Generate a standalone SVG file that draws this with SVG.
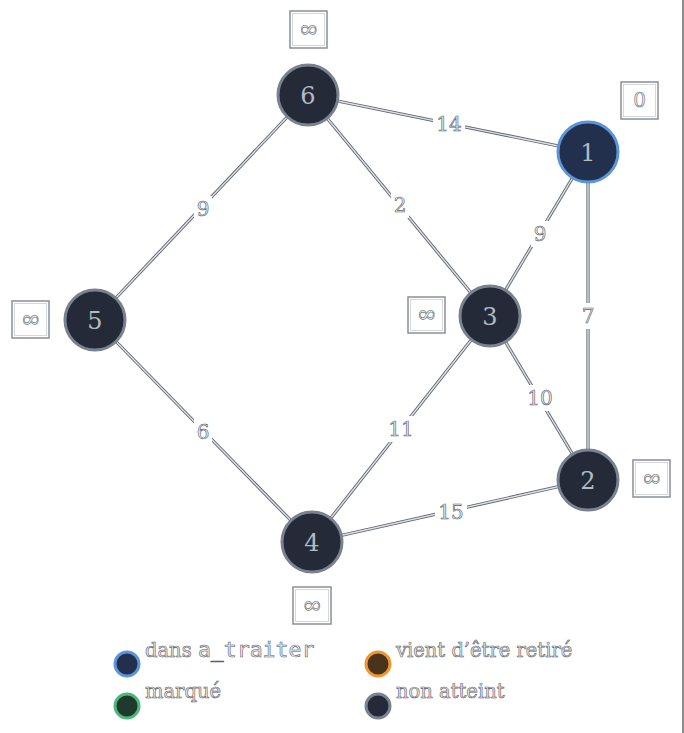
<svg xmlns="http://www.w3.org/2000/svg" width="684" height="733" viewBox="0 0 684 733">
<style>
.e1{stroke:#5f6570;stroke-width:3.2;fill:none}
.e2{stroke:#dfe2e7;stroke-width:1.4;fill:none}
.lbg{fill:#ffffff}
.lt{font-family:"DejaVu Serif","Liberation Serif",serif;font-size:20px;fill:#e8eaee;stroke:#5a606b;stroke-width:0.6;text-anchor:middle}
.n{fill:#252a38;stroke:#7a8290;stroke-width:3}
.n1{fill:#22304d;stroke:#5b95d9;stroke-width:3}
.nt{font-family:"DejaVu Serif","Liberation Serif",serif;font-size:24px;fill:#b4bac4;text-anchor:middle}
.bo{fill:#ffffff;stroke:#8a8f99;stroke-width:1.5}
.bi{fill:none;stroke:#d4d7dc;stroke-width:1}
.bt{font-family:"DejaVu Serif","Liberation Serif",serif;font-size:20px;fill:#eef0f3;stroke:#6a707a;stroke-width:0.6;text-anchor:middle}
.inf{font-size:24px}
.gt{font-family:"DejaVu Serif","Liberation Serif",serif;font-size:19.5px;fill:#eceef2;stroke:#5a606b;stroke-width:0.6}
.mono{font-family:"DejaVu Sans Mono","Liberation Mono",monospace}
</style>
<line x1="683" y1="0" x2="683" y2="733" stroke="#666" stroke-width="1.5"/>
<g id="connectors">
<g id="e6-1"><line class="e1" x1="308" y1="95" x2="588" y2="152"/><line class="e2" x1="308" y1="95" x2="588" y2="152"/><rect class="lbg" x="433" y="112" width="32" height="24"/><text class="lt" x="449" y="131">14</text></g>
<g id="e6-5"><line class="e1" x1="308" y1="95" x2="95" y2="320"/><line class="e2" x1="308" y1="95" x2="95" y2="320"/><rect class="lbg" x="194" y="196" width="18" height="26"/><text class="lt" x="203" y="216">9</text></g>
<g id="e6-3"><line class="e1" x1="308" y1="95" x2="490" y2="316"/><line class="e2" x1="308" y1="95" x2="490" y2="316"/><rect class="lbg" x="391" y="192" width="18" height="26"/><text class="lt" x="400" y="212">2</text></g>
<g id="e1-3"><line class="e1" x1="588" y1="152" x2="490" y2="316"/><line class="e2" x1="588" y1="152" x2="490" y2="316"/><rect class="lbg" x="531" y="221" width="18" height="26"/><text class="lt" x="540" y="241">9</text></g>
<g id="e1-2"><line class="e1" x1="588" y1="152" x2="588" y2="480"/><line class="e2" x1="588" y1="152" x2="588" y2="480"/><rect class="lbg" x="579" y="303" width="18" height="26"/><text class="lt" x="588" y="323">7</text></g>
<g id="e3-2"><line class="e1" x1="490" y1="316" x2="588" y2="480"/><line class="e2" x1="490" y1="316" x2="588" y2="480"/><rect class="lbg" x="525" y="385" width="30" height="26"/><text class="lt" x="540" y="405">10</text></g>
<g id="e3-4"><line class="e1" x1="490" y1="316" x2="312" y2="542"/><line class="e2" x1="490" y1="316" x2="312" y2="542"/><rect class="lbg" x="386" y="416" width="30" height="26"/><text class="lt" x="401" y="436">11</text></g>
<g id="e5-4"><line class="e1" x1="95" y1="320" x2="312" y2="542"/><line class="e2" x1="95" y1="320" x2="312" y2="542"/><rect class="lbg" x="194" y="419" width="18" height="26"/><text class="lt" x="203" y="439">6</text></g>
<g id="e4-2"><line class="e1" x1="312" y1="542" x2="588" y2="480"/><line class="e2" x1="312" y1="542" x2="588" y2="480"/><rect class="lbg" x="435" y="499" width="32" height="26"/><text class="lt" x="451" y="519">15</text></g>
</g>
<g id="node6"><circle class="n" cx="308" cy="95" r="30"/><text class="nt" x="308" y="104">6</text><rect class="bo" x="290" y="11" width="37" height="37"/><rect class="bi" x="292.5" y="13.5" width="32" height="32"/><text class="bt inf" x="308.5" y="37">∞</text></g>
<g id="node1"><circle class="n1" cx="588" cy="152" r="30"/><text class="nt" x="588" y="161">1</text><rect class="bo" x="621" y="82" width="37" height="37"/><rect class="bi" x="623.5" y="84.5" width="32" height="32"/><text class="bt" x="639.5" y="107">0</text></g>
<g id="node5"><circle class="n" cx="95" cy="320" r="30"/><text class="nt" x="95" y="329">5</text><rect class="bo" x="12" y="301" width="37" height="37"/><rect class="bi" x="14.5" y="303.5" width="32" height="32"/><text class="bt inf" x="30.5" y="327">∞</text></g>
<g id="node3"><circle class="n" cx="490" cy="316" r="30"/><text class="nt" x="490" y="325">3</text><rect class="bo" x="408" y="297" width="37" height="36"/><rect class="bi" x="410.5" y="299.5" width="32" height="31"/><text class="bt inf" x="426.5" y="322">∞</text></g>
<g id="node2"><circle class="n" cx="588" cy="480" r="30"/><text class="nt" x="588" y="489">2</text><rect class="bo" x="633" y="460" width="37" height="37"/><rect class="bi" x="635.5" y="462.5" width="32" height="32"/><text class="bt inf" x="651.5" y="486">∞</text></g>
<g id="node4"><circle class="n" cx="312" cy="542" r="30"/><text class="nt" x="312" y="551">4</text><rect class="bo" x="293" y="587" width="38" height="37"/><rect class="bi" x="295.5" y="589.5" width="33" height="32"/><text class="bt inf" x="312" y="613">∞</text></g>
<g id="legend">
<circle cx="127" cy="664" r="12" fill="#22304d" stroke="#5b95d9" stroke-width="3"/>
<text class="gt" x="145" y="657">dans <tspan class="mono" font-size="21.5">a_traiter</tspan></text>
<circle cx="127" cy="706" r="12" fill="#1f3a2c" stroke="#4cb87a" stroke-width="3"/>
<text class="gt" x="145" y="698">marqué</text>
<circle cx="378" cy="664" r="12" fill="#4a331c" stroke="#f0962e" stroke-width="3"/>
<text class="gt" x="396" y="657">vient d’être retiré</text>
<circle cx="378" cy="706" r="12" fill="#252a38" stroke="#7a8290" stroke-width="3"/>
<text class="gt" x="396" y="698">non atteint</text>
</g>
</svg>
